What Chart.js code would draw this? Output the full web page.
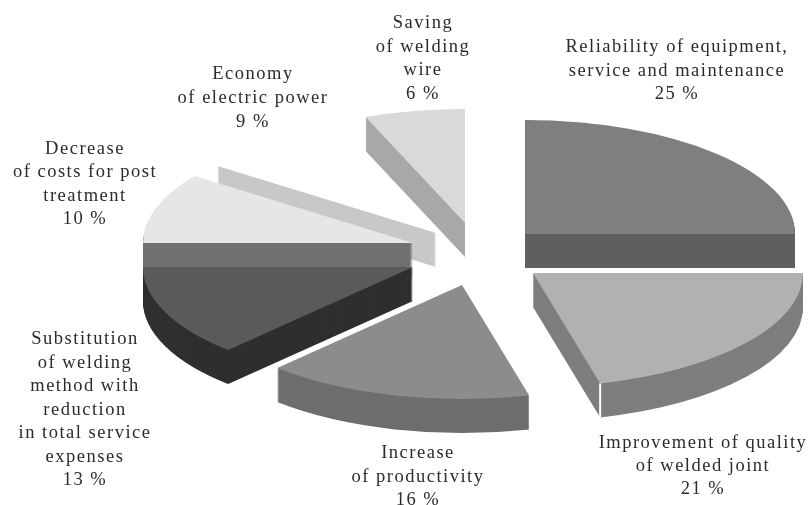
<!DOCTYPE html>
<html>
<head>
<meta charset="utf-8">
<title>Pie</title>
<script src="https://cdn.jsdelivr.net/npm/chart.js@4"></script>
<style>
  html, body { margin: 0; padding: 0; background: #fff; }
  canvas { display: block; }
</style>
</head>
<body>
<canvas id="pie" width="810" height="505"></canvas>
<script>
// Values, clockwise from the top
const categories = [
    "Reliability of equipment, service and maintenance",
    "Improvement of quality of welded joint",
    "Increase of productivity",
    "Substitution of welding method with reduction in total service expenses",
    "Decrease of costs for post treatment",
    "Economy of electric power",
    "Saving of welding wire"
];
const shares = [25, 21, 16, 13, 10, 9, 6];

// Colours
const topColors = ["#7f7f7f", "#b1b1b1", "#8c8c8c", "#5a5a5a", "#e6e6e6", "#ffffff", "#d9d9d9"];
const wallColors = ["#5f5f5f", "#7e7e7e", "#6e6e6e", "#2f2f2f", "#707070", "#c8c8c8", "#a8a8a8"];

// How far each slice is pulled out of the pie centre, in px
const explodeX = [120, 128, 57, 8, 8, 31, 60];
const explodeY = [-18.5, 20.5, 32.5, 14.5, -9.5, -19.5, -29.5];

// Back slices first
const drawOrder = [6, 5, 0, 4, 3, 2, 1];
const tilt = 114 / 270;
const depth = 34;

// Label text, one entry per line
const labelLines = [
    ["Reliability of equipment,", "service and maintenance", "25 %"],
    ["Improvement of quality", "of welded joint", "21 %"],
    ["Increase", "of productivity", "16 %"],
    ["Substitution", "of welding", "method with", "reduction", "in total service", "expenses", "13 %"],
    ["Decrease", "of costs for post", "treatment", "10 %"],
    ["Economy", "of electric power", "9 %"],
    ["Saving", "of welding", "wire", "6 %"]
];
const labelX = [677, 703, 418, 85, 85, 253, 423];
const labelY = [52, 448, 458, 344, 154, 79, 28];
const lineStep = [23.5, 23, 23.5, 23.5, 23.3, 24, 23.5];

const extrudedPie = {
    id: "extrudedPie",
    beforeDatasetDraw(chart, args) {
        const ctx = chart.ctx;
        const arcs = chart.getDatasetMeta(args.index).data;

        const paint = (arc, i, dy, color) => {
            arc.options = Object.assign({}, arc.options, { backgroundColor: color });
            ctx.save();
            ctx.translate(arc.x + explodeX[i], arc.y + explodeY[i] + dy);
            ctx.scale(1, tilt);
            ctx.translate(-arc.x, -arc.y);
            arc.draw(ctx);
            ctx.restore();
        };

        drawOrder.forEach((i) => {
            const arc = arcs[i];
            for (let dy = depth; dy > 0; dy--) {
                paint(arc, i, dy, wallColors[i]);
            }
            paint(arc, i, 0, topColors[i]);
        });

        // White seam on the front corner of the improvement slice
        const seam = arcs[1];
        const a = seam.endAngle;
        const seamX = seam.x + explodeX[1] + Math.cos(a) * seam.outerRadius;
        const seamY = seam.y + explodeY[1] + Math.sin(a) * seam.outerRadius * tilt;
        ctx.save();
        ctx.strokeStyle = "#ffffff";
        ctx.lineWidth = 2;
        ctx.beginPath();
        ctx.moveTo(seamX, seamY);
        ctx.lineTo(seamX, seamY + depth);
        ctx.stroke();
        ctx.restore();

        return false; // the slices are done, skip the flat pie
    },
    afterDraw(chart) {
        const ctx = chart.ctx;
        ctx.save();
        ctx.fillStyle = "#2b2b2b";
        ctx.font = '18.5px "Liberation Serif"';
        ctx.letterSpacing = "1.5px";
        ctx.textAlign = "center";
        ctx.textBaseline = "alphabetic";
        labelLines.forEach((lines, i) => {
            lines.forEach((line, n) => {
                ctx.fillText(line, labelX[i], labelY[i] + n * lineStep[i]);
            });
        });
        ctx.restore();
    }
};

new Chart(document.getElementById("pie"), {
    type: "pie",
    data: {
        labels: categories,
        datasets: [{
            data: shares,
            backgroundColor: topColors,
            borderWidth: 0
        }]
    },
    options: {
        responsive: false,
        animation: false,
        radius: 270,
        plugins: {
            legend: { display: false },
            tooltip: { enabled: false }
        }
    },
    plugins: [extrudedPie]
});
</script>
</body>
</html>
